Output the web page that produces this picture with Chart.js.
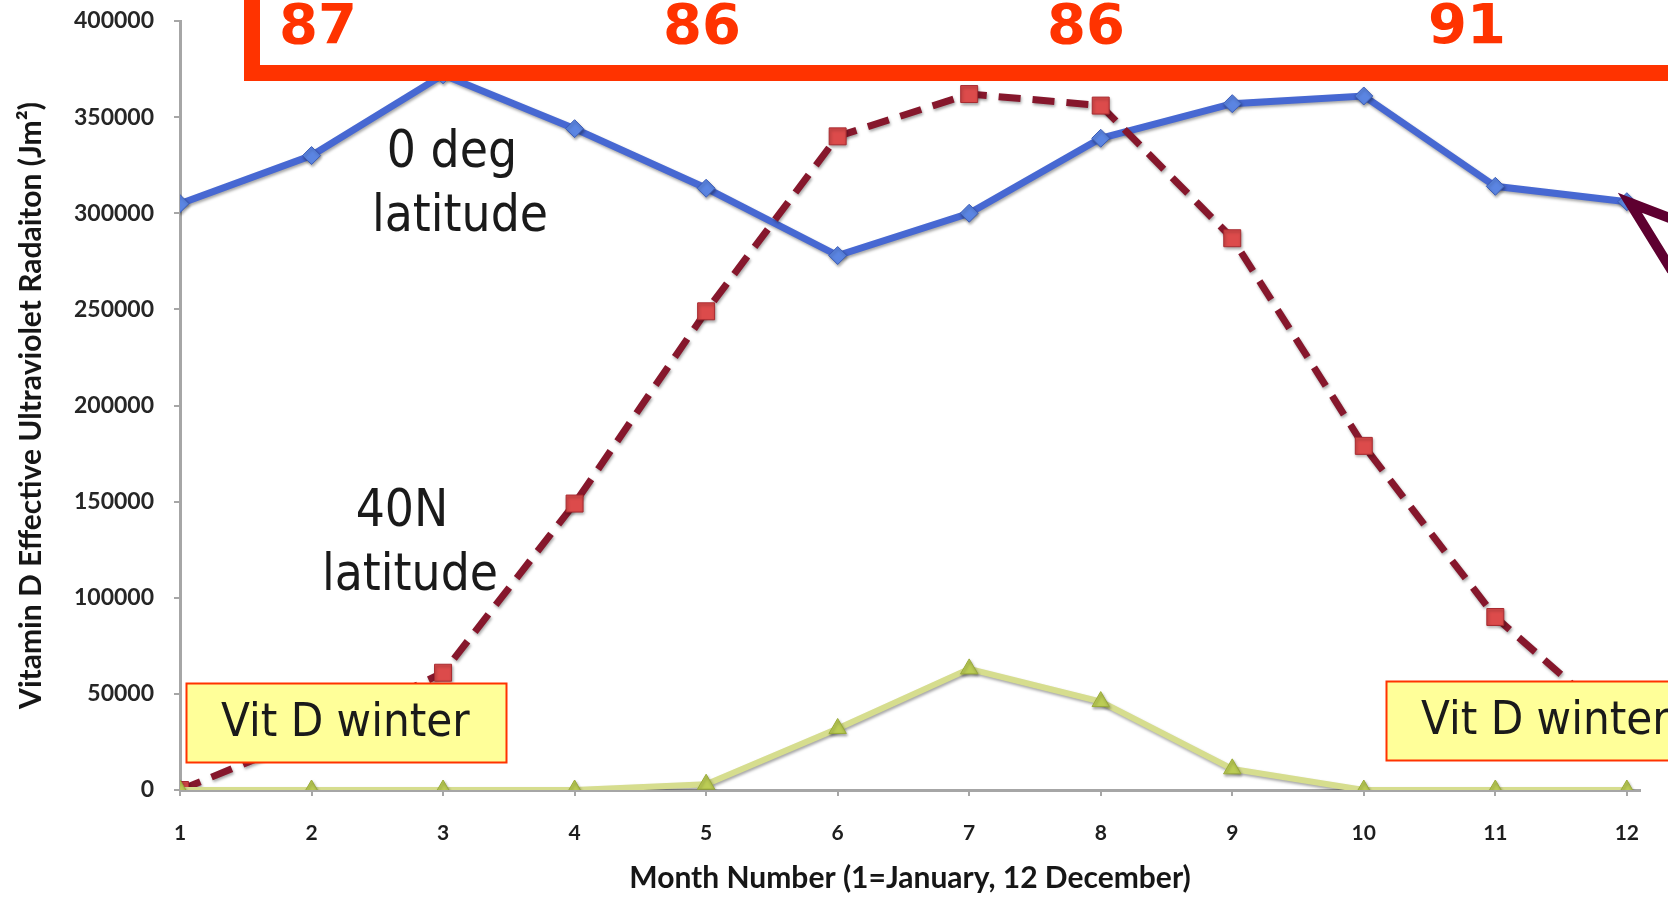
<!DOCTYPE html>
<html>
<head>
<meta charset="utf-8">
<script src="https://cdn.jsdelivr.net/npm/chart.js@4.4.1/dist/chart.umd.min.js"></script>
<style>
  html, body { margin: 0; padding: 0; background: #ffffff; }
  #wrap { width: 1668px; height: 897px; position: relative; }
</style>
</head>
<body>
<div id="wrap"><canvas id="c" width="1668" height="897"></canvas></div>
<script>
// Monthly vitamin D effective UV radiation (J/m^2)
const months = [1, 2, 3, 4, 5, 6, 7, 8, 9, 10, 11, 12];
const equator = [305000, 330000, 372000, 344000, 313000, 278000, 300000, 339000, 357000, 361000, 314000, 306000];
const lat40N = [0, 28000, 61000, 149000, 249000, 340000, 362000, 356000, 287000, 179000, 90000, 30000];
const highLat = [0, 0, 0, 0, 3000, 32000, 63000, 46000, 11000, 0, 0, 0];
const yTickValues = [0, 50000, 100000, 150000, 200000, 250000, 300000, 350000, 400000];
const topNumbers = ['87', '86', '86', '91'];

const toPoints = arr => arr.map((v, i) => ({ x: months[i], y: v }));

const LABEL_FONT = '"DejaVu Sans Condensed", "DejaVu Sans", sans-serif';

// soft drop shadow under each series line
const lineShadow = {
  id: 'lineShadow',
  beforeDatasetDraw(chart) {
    const c = chart.ctx;
    c.save();
    c.shadowColor = 'rgba(0,0,0,0.35)';
    c.shadowBlur = 3;
    c.shadowOffsetX = 1;
    c.shadowOffsetY = 2;
  },
  afterDatasetDraw(chart) { chart.ctx.restore(); }
};

// callouts drawn over the plot
const callouts = {
  id: 'callouts',
  afterDraw(chart) {
    const c = chart.ctx;
    const xs = chart.scales.x, ys = chart.scales.y;
    c.save();

    // red frame across the top
    c.strokeStyle = '#ff3300';
    c.lineWidth = 16;
    c.strokeRect(252, -60, 1600, 133);

    c.fillStyle = '#ff3300';
    c.font = 'bold 56px "DejaVu Sans", sans-serif';
    c.textAlign = 'center';
    c.textBaseline = 'alphabetic';
    const numX = [318, 702, 1086, 1467];
    topNumbers.forEach((t, i) => c.fillText(t, numX[i], 43));

    // series labels
    c.fillStyle = '#1a1a1a';
    c.font = '51px ' + LABEL_FONT;
    c.textBaseline = 'middle';
    c.fillText('0 deg', 452, 154);
    c.fillText('latitude', 460, 218);
    c.fillText('40N', 402, 513);
    c.fillText('latitude', 410, 577);

    // winter boxes
    const box = (x, y, w, h, tx) => {
      c.fillStyle = '#ffff99';
      c.fillRect(x, y, w, h);
      c.strokeStyle = '#ff3300';
      c.lineWidth = 2;
      c.strokeRect(x + 0.5, y + 0.5, w, h);
      c.fillStyle = '#1a1a1a';
      c.textAlign = 'left';
      c.fillText('Vit D winter', tx, y + h / 2 + 1);
    };
    c.font = '47px ' + LABEL_FONT;
    box(186, 683, 320, 79, 221);
    box(1386, 681, 320, 79, 1421);

    // open arrowhead pointing at December, 0 deg
    const tipX = xs.getPixelForValue(12) + 3;
    const tipY = ys.getPixelForValue(equator[11]) + 1;
    c.strokeStyle = '#5e0030';
    c.lineWidth = 10;
    c.lineCap = 'butt';
    c.lineJoin = 'miter';
    c.miterLimit = 10;
    c.beginPath();
    c.moveTo(tipX + 60, tipY + 23);
    c.lineTo(tipX, tipY);
    c.lineTo(tipX + 42, tipY + 68);
    c.stroke();

    c.restore();
  }
};

new Chart(document.getElementById('c'), {
  type: 'line',
  data: {
    datasets: [
      {
        label: '0 deg latitude',
        data: toPoints(equator),
        borderColor: '#4768d2',
        borderWidth: 7,
        pointStyle: 'rectRot',
        pointRadius: 9,
        pointBackgroundColor: '#5b85e2',
        pointBorderColor: '#3c5cb6',
        pointBorderWidth: 1,
        tension: 0,
        order: 3
      },
      {
        label: '40N latitude',
        data: toPoints(lat40N),
        borderColor: '#86172c',
        borderWidth: 7,
        borderDash: [22, 12],
        pointStyle: 'rect',
        pointRadius: 12,
        pointBackgroundColor: '#dc4b4b',
        pointBorderColor: '#a82a30',
        pointBorderWidth: 1,
        tension: 0,
        order: 2
      },
      {
        label: 'Higher latitude',
        data: toPoints(highLat),
        borderColor: '#d6dd8e',
        borderWidth: 6,
        pointStyle: 'triangle',
        pointRadius: 10,
        pointBackgroundColor: '#bccd55',
        pointBorderColor: '#9aab3a',
        pointBorderWidth: 1,
        tension: 0,
        order: 1
      }
    ]
  },
  options: {
    responsive: false,
    animation: false,
    devicePixelRatio: 1,
    layout: { padding: { top: 21, right: 28, left: 0, bottom: 0 } },
    plugins: { legend: { display: false }, tooltip: { enabled: false } },
    scales: {
      x: {
        type: 'linear',
        min: 1,
        max: 12.1,
        afterFit: s => { s.height = 107; },
        afterBuildTicks: s => { s.ticks = months.map(m => ({ value: m })); },
        grid: { display: true, drawOnChartArea: false, drawTicks: true, tickLength: 6, color: '#a6a6a6', lineWidth: 2 },
        border: { display: true, color: '#a6a6a6', width: 3 },
        ticks: {
          color: '#1e1e1e',
          font: { family: 'Lato', weight: 'bold', size: 21 },
          padding: 25,
          callback: v => String(v)
        },
        title: {
          display: true,
          text: 'Month Number (1=January, 12 December)',
          color: '#161616',
          font: { family: 'Lato', weight: 'bold', size: 30 },
          padding: { top: 0, bottom: 1 }
        }
      },
      y: {
        min: 0,
        max: 400000,
        afterFit: s => { s.width = 180; s.paddingTop = 0; s.paddingBottom = 0; },
        afterBuildTicks: s => { s.ticks = yTickValues.map(v => ({ value: v })); },
        grid: { display: true, drawOnChartArea: false, drawTicks: true, tickLength: 6, color: '#a6a6a6', lineWidth: 2 },
        border: { display: true, color: '#a6a6a6', width: 3 },
        ticks: {
          color: '#262626',
          font: { family: 'Lato', weight: 'bold', size: 23 },
          padding: 20,
          callback: v => String(v)
        },
        title: {
          display: true,
          text: 'Vitamin D Effective Ultraviolet Radaiton (Jm²)',
          color: '#161616',
          font: { family: 'Lato', weight: 'bold', size: 30 },
          padding: { top: 13, bottom: 0 }
        }
      }
    }
  },
  plugins: [lineShadow, callouts]
});
</script>
</body>
</html>
